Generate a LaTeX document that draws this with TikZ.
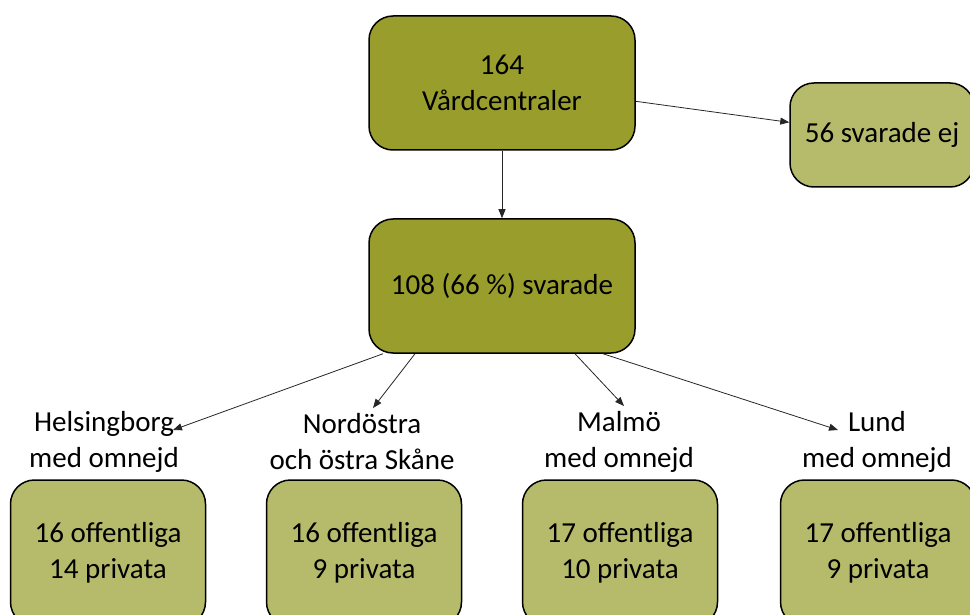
\documentclass[tikz,border=0pt]{standalone}
\usepackage{fontspec}
\setmainfont{Carlito}
\usetikzlibrary{arrows.meta}
\definecolor{olivdark}{RGB}{152,157,43}
\definecolor{olivlight}{RGB}{182,187,107}
\begin{document}
\begin{tikzpicture}[x=1pt,y=-1pt,
  box/.style = {draw, line width=1.5pt, rounded corners=24pt, align=center,
    font=\fontsize{29}{36}\selectfont, minimum height=134pt},
  dark/.style = {box, fill=olivdark, minimum width=266pt},
  light/.style = {box, fill=olivlight, minimum width=195pt},
  area/.style = {align=center, font=\fontsize{29}{36}\selectfont},
  pil/.style = {-{Triangle[length=9pt,width=7pt]}, line width=0.8pt, draw=black!85}]
\useasboundingbox (0,0) rectangle (970,615);
\node[dark] (top) at (502,83) {164\\Vårdcentraler};
\node[light] (ej) [minimum width=184pt, minimum height=104pt] at (882,135) {56 svarade ej};
\node[dark] (svar) at (502,286) {108 (66 \%) svarade};
\node[area] (hbg) at (104,442) {Helsingborg\\med omnejd};
\node[area] (nord) at (362,442) {Nordöstra\\och östra Skåne};
\node[area] (malmo) at (619,442) {Malmö\\med omnejd};
\node[area] (lund) at (877,442) {Lund\\med omnejd};
\node[light] (b1) [minimum height=146pt] at (108,553) {16 offentliga\\14 privata};
\node[light] (b2) [minimum height=146pt] at (364,553) {16 offentliga\\9 privata};
\node[light] (b3) [minimum height=146pt] at (620,553) {17 offentliga\\10 privata};
\node[light] (b4) [minimum height=146pt] at (878,553) {17 offentliga\\9 privata};
\coordinate (hbgin) at (173,430);
\coordinate (nordin) at (373,408);
\coordinate (malmoin) at (624,406);
\coordinate (lundin) at (838,430);
\draw[pil] (top) -- (svar);
\draw[pil] (top) -- (ej);
\draw[pil] ([xshift=-119pt]svar.south) -- (hbgin);
\draw[pil] ([xshift=-87pt]svar.south) -- (nordin);
\draw[pil] ([xshift=73pt]svar.south) -- (malmoin);
\draw[pil] ([xshift=101pt]svar.south) -- (lundin);
\end{tikzpicture}
\end{document}
